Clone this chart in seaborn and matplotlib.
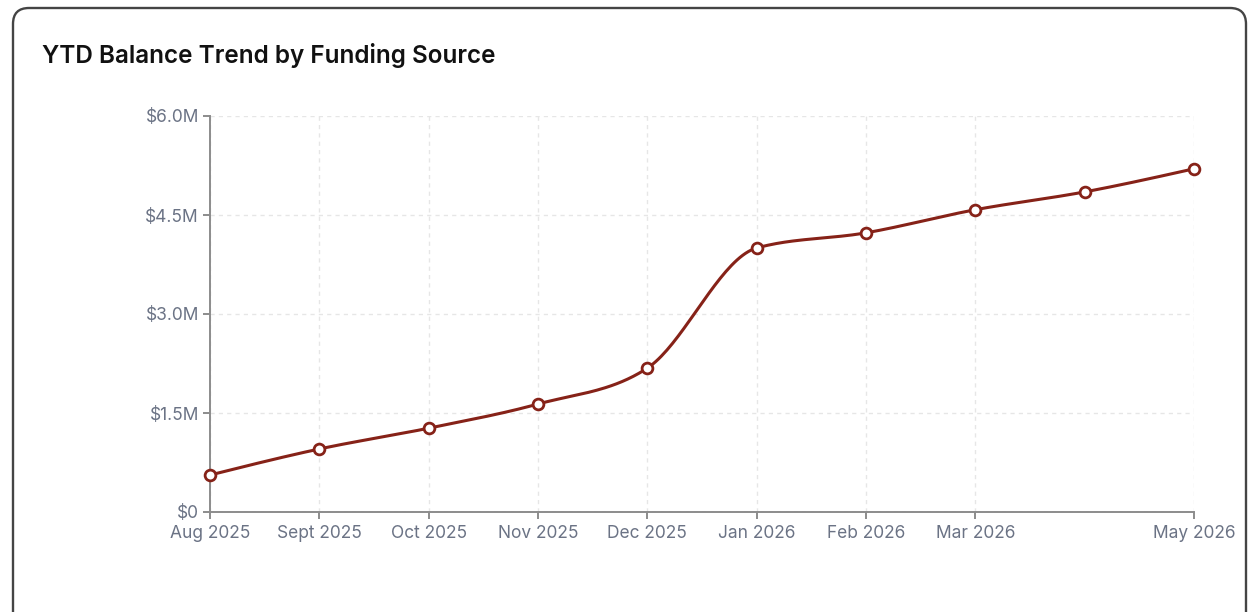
import numpy as np
import pandas as pd
import matplotlib
matplotlib.use("Agg")
import matplotlib.pyplot as plt
from matplotlib.patches import FancyBboxPatch
from matplotlib.transforms import IdentityTransform
from matplotlib.ticker import FuncFormatter
import seaborn as sns

# Monthly YTD balance (USD)
months = ["Aug 2025", "Sept 2025", "Oct 2025", "Nov 2025", "Dec 2025",
          "Jan 2026", "Feb 2026", "Mar 2026", "Apr 2026", "May 2026"]
balances = [560_000, 955_000, 1_270_000, 1_636_000, 2_180_000,
            4_000_000, 4_230_000, 4_580_000, 4_850_000, 5_200_000]
# Months shown on the x axis (Apr 2026 label is skipped)
shown_months = ["Aug 2025", "Sept 2025", "Oct 2025", "Nov 2025", "Dec 2025",
                "Jan 2026", "Feb 2026", "Mar 2026", "May 2026"]
y_ticks = [0, 1_500_000, 3_000_000, 4_500_000, 6_000_000]

LINE = "#862218"
TICK_TXT = "#6b7385"
AXIS = "#8c8c8c"
GRID = "#e6e6e6"

sns.set_theme(style="white")
plt.rcParams["font.family"] = ["Inter", "DejaVu Sans"]

df = pd.DataFrame({"month": months, "balance": balances})
df["pos"] = np.arange(len(df))


def monotone_curve(x, y, n=40):
    """Monotone cubic (Steffen-style) path through the points."""
    x = np.asarray(x, float)
    y = np.asarray(y, float)
    h = np.diff(x)
    s = np.diff(y) / h
    t = np.zeros_like(y)
    for i in range(1, len(x) - 1):
        s0, s1 = s[i - 1], s[i]
        p = (s0 * h[i] + s1 * h[i - 1]) / (h[i - 1] + h[i])
        t[i] = (np.sign(s0) + np.sign(s1)) * min(abs(s0), abs(s1), 0.5 * abs(p))
    t[0] = (3 * s[0] - t[1]) / 2
    t[-1] = (3 * s[-1] - t[-2]) / 2
    xs, ys = [], []
    u = np.linspace(0, 1, n)
    for i in range(len(x) - 1):
        dx = h[i]
        p0 = np.array([x[i], y[i]])
        p1 = np.array([x[i] + dx / 3, y[i] + dx * t[i] / 3])
        p2 = np.array([x[i + 1] - dx / 3, y[i + 1] - dx * t[i + 1] / 3])
        p3 = np.array([x[i + 1], y[i + 1]])
        b = ((1 - u)[:, None] ** 3 * p0 + 3 * ((1 - u) ** 2 * u)[:, None] * p1
             + 3 * ((1 - u) * u ** 2)[:, None] * p2 + (u ** 3)[:, None] * p3)
        xs.append(b[:, 0])
        ys.append(b[:, 1])
    return np.concatenate(xs), np.concatenate(ys)


fig = plt.figure(figsize=(12.49, 6.12), dpi=100)
fig.patch.set_facecolor("white")

# Card frame
card = FancyBboxPatch((13, -40), 1233, 644, boxstyle="round,pad=0,rounding_size=16",
                      transform=IdentityTransform(), facecolor="none",
                      edgecolor="#444444", linewidth=1.7, zorder=-1)
fig.patches.append(card)

fig.text(42 / 1249, 1 - 55 / 612, "YTD Balance Trend by Funding Source",
         fontsize=17.5, fontweight="semibold", color="#111111", va="center", ha="left")

ax = fig.add_axes([210 / 1249, 100 / 612, 984 / 1249, 396 / 612])
ax.set_facecolor("none")

cx, cy = monotone_curve(df["pos"], df["balance"])
sns.lineplot(x=cx, y=cy, sort=False, estimator=None, color=LINE, linewidth=2.2, ax=ax, zorder=3)
sns.scatterplot(data=df, x="pos", y="balance", s=60, color="white", edgecolor=LINE,
                linewidth=2, ax=ax, zorder=4, clip_on=False)

ax.set_xlim(0, len(months) - 1)
ax.set_ylim(0, 6_000_000)
tick_pos = [months.index(m) for m in shown_months]
ax.set_xticks(tick_pos)
ax.set_xticklabels(shown_months)
ax.set_yticks(y_ticks)
ax.yaxis.set_major_formatter(FuncFormatter(
    lambda v, _: "$0" if v == 0 else f"${v / 1e6:.1f}M"))
ax.set_xlabel("")
ax.set_ylabel("")

ax.grid(True, color=GRID, linestyle=(0, (3, 3)), linewidth=1)
ax.set_axisbelow(True)
for side in ("top", "right"):
    ax.spines[side].set_visible(False)
for side in ("left", "bottom"):
    ax.spines[side].set_color(AXIS)
    ax.spines[side].set_linewidth(1.4)
ax.tick_params(axis="both", which="major", length=5, width=1.4, color=AXIS,
               labelsize=12.5, labelcolor=TICK_TXT, pad=3, left=True, bottom=True)
ax.tick_params(axis="x", pad=4.5)

fig.savefig("out.png", dpi=100, facecolor="white")
